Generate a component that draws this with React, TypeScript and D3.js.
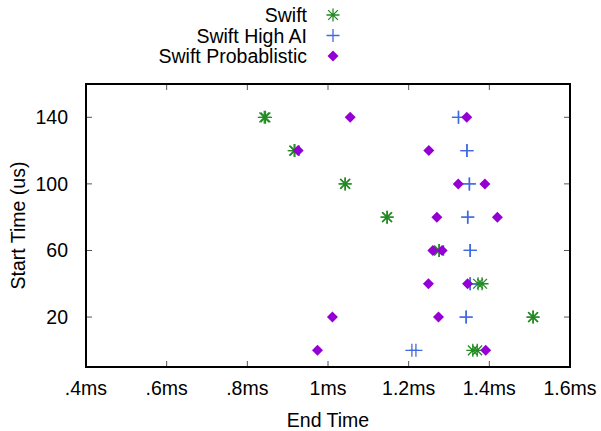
import React, { useEffect, useRef } from 'react';
import * as d3 from 'd3';

// start time rows (us)
const startTimes = [140, 140, 120, 120, 100, 100, 80, 80, 60, 60, 40, 40, 20, 20, 0, 0];

// end times (ms), two runs per start time
const swiftEnd = [0.842, 0.845, 0.916, 0.918, 1.042, 1.043, 1.146, 1.147, 1.275, 1.276, 1.372, 1.382, 1.508, 1.509, 1.359, 1.37];
const highAiEnd = [1.323, 1.324, 1.344, 1.345, 1.35, 1.351, 1.346, 1.347, 1.352, 1.353, 1.352, 1.353, 1.342, 1.343, 1.208, 1.218];
const probEnd = [1.055, 1.344, 0.926, 1.25, 1.323, 1.389, 1.27, 1.42, 1.26, 1.283, 1.249, 1.346, 1.011, 1.274, 0.974, 1.391];

const xTicks = [0.4, 0.6, 0.8, 1.0, 1.2, 1.4, 1.6];
const xTickLabels = ['.4ms', '.6ms', '.8ms', '1ms', '1.2ms', '1.4ms', '1.6ms'];
const yTicks = [20, 60, 100, 140];

const seriesNames = ['Swift', 'Swift High AI', 'Swift Probablistic'];
const seriesColors = ['#228b22', '#4169e1', '#9400d3'];

const App = () => {
  const ref = useRef<SVGSVGElement | null>(null);

  useEffect(() => {
    if (!ref.current) return;
    const svg = d3.select(ref.current);
    svg.selectAll('*').remove();

    const left = 86, right = 570, top = 84, bottom = 367;
    const font = '"Liberation Sans", Arial, sans-serif';
    const fs = '19.5px';

    const x = d3.scaleLinear().domain([0.4, 1.6]).range([left, right]);
    const y = d3.scaleLinear().domain([-10, 160]).range([bottom, top]);

    svg.append('rect').attr('width', 601).attr('height', 431).attr('fill', '#fff');

    const tickLen = 6;
    // x ticks, mirrored on top
    xTicks.forEach((t, i) => {
      const px = x(t);
      if (i > 0 && i < xTicks.length - 1) {
        svg.append('line').attr('x1', px).attr('x2', px).attr('y1', bottom).attr('y2', bottom - tickLen)
          .attr('stroke', '#555').attr('stroke-width', 1);
        svg.append('line').attr('x1', px).attr('x2', px).attr('y1', top).attr('y2', top + tickLen)
          .attr('stroke', '#555').attr('stroke-width', 1);
      }
      svg.append('text').attr('x', px).attr('y', 395).attr('text-anchor', 'middle')
        .style('font-family', font).style('font-size', fs).attr('fill', '#000')
        .text(xTickLabels[i]);
    });

    yTicks.forEach(t => {
      const py = y(t);
      svg.append('line').attr('x1', left).attr('x2', left + tickLen).attr('y1', py).attr('y2', py)
        .attr('stroke', '#555').attr('stroke-width', 1);
      svg.append('line').attr('x1', right).attr('x2', right - tickLen).attr('y1', py).attr('y2', py)
        .attr('stroke', '#555').attr('stroke-width', 1);
      svg.append('text').attr('x', 68).attr('y', py + 7).attr('text-anchor', 'end')
        .style('font-family', font).style('font-size', fs).attr('fill', '#000')
        .text(String(t));
    });

    // symbols
    const star = (g: any, cx: number, cy: number, color: string) => {
      const r = 6.5;
      const d = r * 0.75;
      g.append('path')
        .attr('d', `M${cx - r},${cy}H${cx + r}M${cx},${cy - r}V${cy + r}M${cx - d},${cy - d}L${cx + d},${cy + d}M${cx - d},${cy + d}L${cx + d},${cy - d}`)
        .attr('stroke', color).attr('stroke-width', 1.3).attr('fill', 'none');
    };
    const plus = (g: any, cx: number, cy: number, color: string) => {
      const r = 6.5;
      g.append('path')
        .attr('d', `M${cx - r},${cy}H${cx + r}M${cx},${cy - r}V${cy + r}`)
        .attr('stroke', color).attr('stroke-width', 1.3).attr('fill', 'none');
    };
    const diamond = (g: any, cx: number, cy: number, color: string) => {
      const r = 5.5;
      g.append('path')
        .attr('d', `M${cx},${cy - r}L${cx + r},${cy}L${cx},${cy + r}L${cx - r},${cy}Z`)
        .attr('fill', color);
    };
    const markers = [star, plus, diamond];
    const seriesData = [swiftEnd, highAiEnd, probEnd];

    const pts = svg.append('g');
    seriesData.forEach((vals, s) => {
      vals.forEach((v, i) => {
        markers[s](pts, x(v), y(startTimes[i]), seriesColors[s]);
      });
    });

    // border
    svg.append('rect').attr('x', left).attr('y', top).attr('width', right - left).attr('height', bottom - top)
      .attr('fill', 'none').attr('stroke', '#000').attr('stroke-width', 2);

    // legend
    seriesNames.forEach((name, i) => {
      const ly = 15 + i * 20.5;
      svg.append('text').attr('x', 307).attr('y', ly + 7).attr('text-anchor', 'end')
        .style('font-family', font).style('font-size', fs).attr('fill', '#000')
        .text(name);
      markers[i](svg, 333, ly, seriesColors[i]);
    });

    // axis labels
    svg.append('text').attr('x', (left + right) / 2).attr('y', 427).attr('text-anchor', 'middle')
      .style('font-family', font).style('font-size', fs).attr('fill', '#000').text('End Time');
    svg.append('text').attr('transform', `translate(25, ${(top + bottom) / 2}) rotate(-90)`)
      .attr('text-anchor', 'middle')
      .style('font-family', font).style('font-size', fs).attr('fill', '#000').text('Start Time (us)');
  }, []);

  return (
    <svg ref={ref} width={601} height={431} style={{ position: 'absolute', left: 0, top: 0 }} />
  );
};

export default App;
